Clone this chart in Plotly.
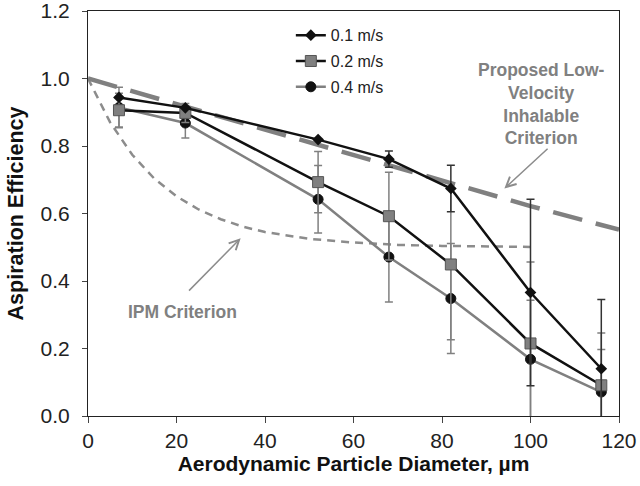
import plotly.graph_objects as go

# ---- data ----
diam = [7, 22, 52, 68, 82, 100, 116]
eff_01 = [0.944, 0.913, 0.819, 0.761, 0.674, 0.366, 0.140]
err_01 = [0.0, 0.0, 0.0, 0.024, 0.069, 0.276, 0.205]
eff_02 = [0.906, 0.898, 0.693, 0.592, 0.449, 0.215, 0.091]
err_02 = [0.05, 0.028, 0.091, 0.13, 0.223, 0.241, 0.155]
eff_04 = [0.914, 0.868, 0.642, 0.471, 0.348, 0.168, 0.071]
err_04 = [0.06, 0.044, 0.10, 0.133, 0.163, 0.175, 0.126]

prop_x = [0, 20, 40, 60, 80, 100, 120]
prop_y = [1.0, 0.925, 0.850, 0.775, 0.697, 0.622, 0.552]

ipm_x = [0, 5, 10, 15, 20, 25, 30, 35, 40, 45, 50, 60, 70, 80, 90, 100]
ipm_y = [1.0, 0.870, 0.774, 0.703, 0.651, 0.612, 0.583, 0.561, 0.545,
         0.534, 0.525, 0.514, 0.507, 0.504, 0.502, 0.501]

x_ticks = [0, 20, 40, 60, 80, 100, 120]
y_ticks = [0.0, 0.2, 0.4, 0.6, 0.8, 1.0, 1.2]
y_tick_text = ["0.0", "0.2", "0.4", "0.6", "0.8", "1.0", "1.2"]

GRAY = "#808080"
DARK = "#111111"

fig = go.Figure()

# criteria curves (behind)
fig.add_trace(go.Scatter(x=ipm_x, y=ipm_y, mode="lines", showlegend=False,
                         line=dict(color="#8c8c8c", width=2.5, dash="8px,6px"),
                         hoverinfo="skip"))
fig.add_trace(go.Scatter(x=prop_x, y=prop_y, mode="lines", showlegend=False,
                         line=dict(color=GRAY, width=4.5, dash="30px,14px"),
                         hoverinfo="skip"))

# data series
fig.add_trace(go.Scatter(
    x=diam, y=eff_04, name="0.4 m/s", mode="lines+markers", legendgroup="c",
    legendrank=3,
    line=dict(color=GRAY, width=2.5),
    marker=dict(symbol="circle", size=10, color=DARK, line=dict(color=DARK, width=1)),
    error_y=dict(type="data", array=err_04, color=GRAY, thickness=1.5, width=4)))
fig.add_trace(go.Scatter(
    x=diam, y=eff_02, name="0.2 m/s", mode="lines+markers", legendgroup="b",
    legendrank=2,
    line=dict(color=DARK, width=2.5),
    marker=dict(symbol="square", size=11, color=GRAY, line=dict(color="#555555", width=1)),
    error_y=dict(type="data", array=err_02, color=GRAY, thickness=1.5, width=4)))
fig.add_trace(go.Scatter(
    x=diam, y=eff_01, name="0.1 m/s", mode="lines+markers", legendgroup="a",
    legendrank=1,
    line=dict(color=DARK, width=2.5),
    marker=dict(symbol="diamond", size=9, color=DARK),
    error_y=dict(type="data", array=err_01, color="#333333", thickness=1.5, width=4)))

annot_font = dict(family="Liberation Sans, Arial, sans-serif", size=17.5, color=GRAY)
fig.update_layout(
    width=640, height=486,
    margin=dict(l=88, r=21, t=11, b=70),
    paper_bgcolor="white", plot_bgcolor="white",
    font=dict(family="Liberation Sans, Arial, sans-serif", color="#222222"),
    showlegend=True,
    legend=dict(x=0.382, y=0.982, xanchor="left", yanchor="top",
                traceorder="grouped", tracegroupgap=2,
                font=dict(size=16, color="#222222"), bgcolor="rgba(0,0,0,0)",
                itemwidth=30),
    xaxis=dict(range=[0, 120], tickvals=x_ticks, ticks="outside", ticklen=6,
               automargin=False, ticklabeloverflow="allow",
               showgrid=False, zeroline=False, showline=True, linecolor="#222222",
               linewidth=1, mirror=True, tickfont=dict(size=21, color="#222222"),
               title=dict(text="<b>Aerodynamic Particle Diameter, µm</b>",
                          font=dict(size=21, color="#111111"), standoff=0)),
    yaxis=dict(range=[0, 1.2], tickvals=y_ticks, ticktext=y_tick_text,
               ticks="outside", ticklen=5, ticklabelstandoff=8,
               automargin=False, ticklabeloverflow="allow",
               showgrid=False, zeroline=False, showline=True, linecolor="#222222",
               linewidth=1, mirror=True, tickfont=dict(size=21, color="#222222"),
               title=dict(text="<b>Aspiration Efficiency</b>",
                          font=dict(size=21.5, color="#111111"), standoff=11)),
    annotations=[
        dict(x=102.4, y=0.925, xref="x", yref="y", showarrow=False,
             text="<b>Proposed Low-<br>Velocity<br>Inhalable<br>Criterion</b>",
             font=annot_font, align="center"),
        dict(x=94.1, y=0.674, ax=104.2, ay=0.796, xref="x", yref="y",
             axref="x", ayref="y", text="", showarrow=True, arrowhead=5,
             arrowsize=1.3, arrowwidth=1.5, arrowcolor="#8c8c8c"),
        dict(x=21.3, y=0.308, xref="x", yref="y", showarrow=False,
             text="<b>IPM Criterion</b>", font=annot_font),
        dict(x=34.5, y=0.527, ax=22.5, ay=0.367, xref="x", yref="y",
             axref="x", ayref="y", text="", showarrow=True, arrowhead=5,
             arrowsize=1.3, arrowwidth=1.5, arrowcolor="#8c8c8c"),
    ],
)

fig.write_html("out.html", config={"displayModeBar": False},
               post_script="document.body.style.margin='0px';")
